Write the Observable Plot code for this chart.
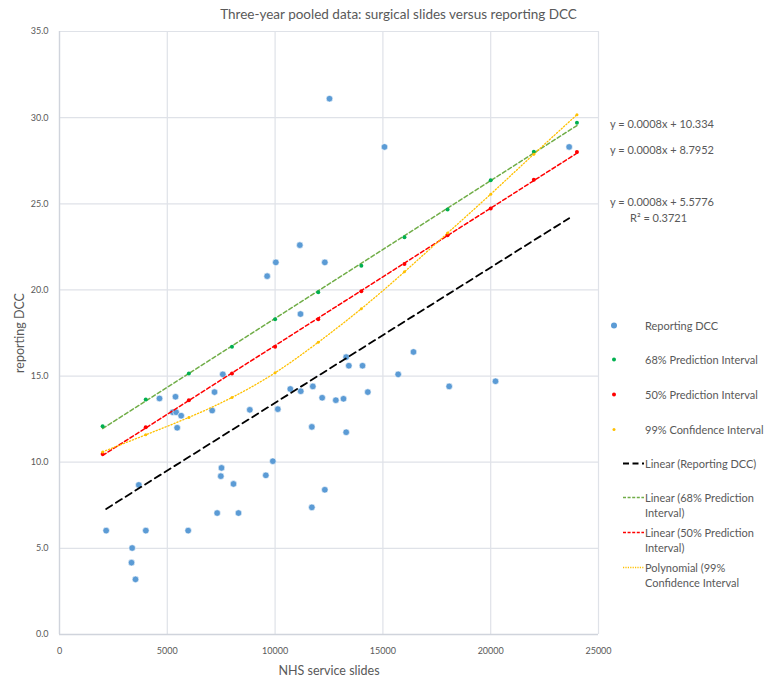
<!DOCTYPE html>
<html>
<head>
<meta charset="utf-8">
<script src="https://cdn.jsdelivr.net/npm/d3@7"></script>
<script src="https://cdn.jsdelivr.net/npm/@observablehq/plot@0.6"></script>
<style>
  body { margin: 0; background: #fff; font-family: Lato, "Open Sans", sans-serif; }
  #wrap { position: relative; width: 783px; height: 679px; overflow: hidden; }
  #title { height: 24px; line-height: 28px; font-size: 13.5px; color: #595959; text-align: center; padding-left: 14px; }
  .ov { position: absolute; font-size: 11px; color: #595959; white-space: nowrap; }
  .leg { position: absolute; left: 600px; font-size: 11px; color: #595959; }
  .leg svg { position: absolute; left: 0; top: 0; }
  .leg span { position: absolute; left: 45px; top: 0; line-height: 15px; white-space: nowrap; }
  svg [aria-label="x-axis label"] text, svg [aria-label="y-axis label"] text { font-size: 12.5px; }
</style>
</head>
<body>
<div id="wrap">
  <div id="title">Three-year pooled data: surgical slides versus reporting DCC</div>
  <div id="chart"></div>
</div>
<script>
// Reporting DCC scatter (NHS service slides, reporting DCC)
const slides = [2164, 3340, 3370, 3525, 3679, 4004, 4638, 5256, 5411, 5380, 5458, 5643, 5968,
  7081, 7190, 7313, 7483, 7514, 7574, 8070, 8302, 8827, 9570, 9632, 9895, 10033, 10125,
  10705, 11190, 11147, 11178, 11704, 11704, 11750, 12183, 12306, 12306, 12523, 12817, 13173,
  13297, 13297, 13420, 14054, 14300, 15074, 15709, 16419, 18074, 20223, 23639];
const dcc = [6.03, 4.17, 5.02, 3.2, 8.68, 6.03, 13.7, 12.9, 12.9, 13.8, 12.0, 12.7, 6.03,
  13.0, 14.07, 7.05, 9.19, 9.67, 15.1, 8.74, 7.05, 13.04, 9.24, 20.8, 10.06, 21.6, 13.08,
  14.25, 14.12, 22.6, 18.6, 12.05, 7.38, 14.4, 13.74, 21.6, 8.4, 31.1, 13.6, 13.68,
  16.1, 11.74, 15.6, 15.6, 14.07, 28.3, 15.1, 16.4, 14.4, 14.7, 28.3];

// Interval series at fixed slide counts
const intervalX = [2000, 4000, 6000, 8000, 10000, 12000, 14000, 16000, 18000, 20000, 22000, 24000];
const pi68 = [12.09, 13.64, 15.15, 16.7, 18.3, 19.87, 21.4, 23.06, 24.67, 26.36, 28.02, 29.7];
const pi50 = [10.47, 12.03, 13.6, 15.15, 16.7, 18.3, 19.92, 21.5, 23.18, 24.73, 26.4, 28.0];
const ci99 = [10.6, 11.59, 12.6, 13.76, 15.19, 16.96, 18.91, 21.05, 23.3, 25.56, 27.88, 30.17];

const xTicks = [0, 5000, 10000, 15000, 20000, 25000];
const yTicks = [0, 5, 10, 15, 20, 25, 30, 35];

const equations = ["y = 0.0008x + 10.334", "y = 0.0008x + 8.7952", "y = 0.0008x + 5.5776", "R² = 0.3721"];

const pts = slides.map((x, i) => ({x, y: dcc[i]}));
const g = intervalX.map((x, i) => ({x, y: pi68[i]}));
const r = intervalX.map((x, i) => ({x, y: pi50[i]}));
const o = intervalX.map((x, i) => ({x, y: ci99[i]}));

const grid = "#dfe2e8";
const chart = Plot.plot({
  width: 783, height: 655,
  marginTop: 7, marginLeft: 59, marginRight: 185, marginBottom: 45,
  x: {domain: [0, 25000]},
  y: {domain: [0, 35]},
  style: {fontFamily: "Lato, 'Open Sans', sans-serif", fontSize: "9px", color: "#595959", background: "#fff"},
  marks: [
    Plot.gridX(xTicks, {stroke: grid, strokeOpacity: 1, strokeWidth: 1.2}),
    Plot.gridY(yTicks, {stroke: grid, strokeOpacity: 1, strokeWidth: 1.2}),
    Plot.ruleX([0], {stroke: "#d0d4dc", strokeWidth: 1.3}),
    Plot.ruleY([0], {stroke: "#d0d4dc", strokeWidth: 1.3}),
    Plot.axisX(xTicks, {tickSize: 0, tickPadding: 13, tickFormat: d => String(d),
      label: "NHS service slides", labelAnchor: "center", labelArrow: "none", labelOffset: 40}),
    Plot.axisY(yTicks, {tickSize: 0, tickPadding: 11, tickFormat: d3.format(".1f"),
      label: "reporting DCC", labelAnchor: "center", labelArrow: "none", labelOffset: 44}),
    Plot.dot(pts, {x: "x", y: "y", r: 3.3, fill: "#5b9bd5", stroke: "#fff", strokeWidth: 0.6}),
    Plot.linearRegressionY(g, {x: "x", y: "y", stroke: "#70ad47", strokeWidth: 1.5, strokeDasharray: "4,2.5", ci: 0}),
    Plot.linearRegressionY(r, {x: "x", y: "y", stroke: "#ff0000", strokeWidth: 1.5, strokeDasharray: "4,2.5", ci: 0}),
    Plot.line(o, {x: "x", y: "y", curve: "natural", stroke: "#ffc000", strokeWidth: 1.3, strokeDasharray: "1.2,2"}),
    Plot.linearRegressionY(pts, {x: "x", y: "y", stroke: "#000", strokeWidth: 1.8, strokeDasharray: "7,4.5", ci: 0}),
    Plot.dot(g, {x: "x", y: "y", r: 2, fill: "#00b050"}),
    Plot.dot(r, {x: "x", y: "y", r: 2, fill: "#ff0000"}),
    Plot.dot(o, {x: "x", y: "y", r: 1.5, fill: "#ffc000"})
  ]
});
document.getElementById("chart").appendChild(chart);

const wrap = document.getElementById("wrap");
// equation labels
const eqPos = [[610, 117], [610, 143], [610, 195], [630, 211]];
equations.forEach((t, i) => {
  const d = document.createElement("div");
  d.className = "ov";
  d.style.left = eqPos[i][0] + "px";
  d.style.top = eqPos[i][1] + "px";
  d.textContent = t;
  wrap.appendChild(d);
});

// legend
const legendItems = [
  {label: ["Reporting DCC"], type: "dot", color: "#5b9bd5", r: 3, top: 318},
  {label: ["68% Prediction Interval"], type: "dot", color: "#00b050", r: 2, top: 352},
  {label: ["50% Prediction Interval"], type: "dot", color: "#ff0000", r: 2, top: 387},
  {label: ["99% Confidence Interval"], type: "dot", color: "#ffc000", r: 1.5, top: 422},
  {label: ["Linear (Reporting DCC)"], type: "line", color: "#000", dash: "6,3.5", w: 1.8, top: 456},
  {label: ["Linear (68% Prediction", "Interval)"], type: "line", color: "#70ad47", dash: "3,1.6", w: 1.5, top: 490},
  {label: ["Linear (50% Prediction", "Interval)"], type: "line", color: "#ff0000", dash: "3,1.6", w: 1.5, top: 525},
  {label: ["Polynomial (99%", "Confidence Interval"], type: "line", color: "#ffc000", dash: "1.2,1.2", w: 1.5, top: 560}
];
legendItems.forEach(it => {
  const d = document.createElement("div");
  d.className = "leg";
  d.style.top = it.top + "px";
  const ns = "http://www.w3.org/2000/svg";
  const s = document.createElementNS(ns, "svg");
  s.setAttribute("width", 45); s.setAttribute("height", 15);
  if (it.type === "dot") {
    const c = document.createElementNS(ns, "circle");
    c.setAttribute("cx", 14); c.setAttribute("cy", 7.5); c.setAttribute("r", it.r);
    c.setAttribute("fill", it.color);
    s.appendChild(c);
  } else {
    const l = document.createElementNS(ns, "line");
    l.setAttribute("x1", 23); l.setAttribute("x2", 44); l.setAttribute("y1", 7.5); l.setAttribute("y2", 7.5);
    l.setAttribute("stroke", it.color); l.setAttribute("stroke-width", it.w);
    l.setAttribute("stroke-dasharray", it.dash);
    s.appendChild(l);
  }
  d.appendChild(s);
  const sp = document.createElement("span");
  sp.innerHTML = it.label.join("<br>");
  d.appendChild(sp);
  wrap.appendChild(d);
});
</script>
</body>
</html>
